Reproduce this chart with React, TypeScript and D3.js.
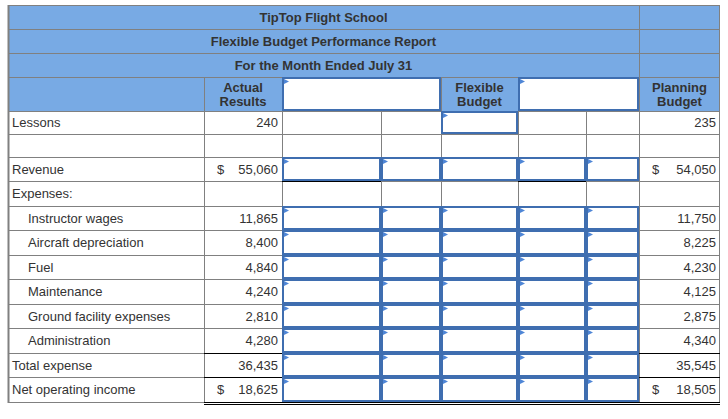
import React from "react";
import * as d3 from "d3";

// ---- data ----
const titleLines = ["TipTop Flight School", "Flexible Budget Performance Report", "For the Month Ended July 31"];
const headerActual = ["Actual", "Results"];
const headerFlexible = ["Flexible", "Budget"];
const headerPlanning = ["Planning", "Budget"];
const rowLabels = [
  "Lessons", "", "Revenue", "Expenses:", "Instructor wages", "Aircraft depreciation", "Fuel",
  "Maintenance", "Ground facility expenses", "Administration", "Total expense", "Net operating income",
];
const rowIndent = [false, false, false, false, true, true, true, true, true, true, false, false];
const actualValues: (number | null)[] = [240, null, 55060, null, 11865, 8400, 4840, 4240, 2810, 4280, 36435, 18625];
const planningValues: (number | null)[] = [235, null, 54050, null, 11750, 8225, 4230, 4125, 2875, 4340, 35545, 18505];
const dollarRows = [false, false, true, false, false, false, false, false, false, false, false, true];

// ---- layout ----
const colWidths = [196, 78, 99, 60, 77, 68, 53, 81];
const tableLeft = 8;
const tableTop = 5;
const colX = [tableLeft, ...d3.cumsum(colWidths).map((d) => d + tableLeft)];
const titleRowH = 24;
const headerRowH = 34;
const bodyRowHeights = [23, 23, 24, 24.5, 24.5, 24.5, 24.5, 24.5, 24.5, 24.5, 24.5, 24.5];
const headerTop = tableTop + titleRowH * 3;
const bodyTop = headerTop + headerRowH;
const rowY = [bodyTop, ...d3.cumsum(bodyRowHeights).map((d) => d + bodyTop)].map((d) => Math.round(d));
const tableBottom = rowY[rowY.length - 1];
const tableRight = colX[colX.length - 1];

const BLUE = "#78AAE4";
const GRID = "#808080";
const INPUT = "#3F6EB0";
const FLAG = "#4F86D6";
const TXT = "#333";
const FONT = "'Liberation Sans', Arial, sans-serif";
const fmt = d3.format(",");

function InputBox({ x0, x1, y0, y1 }: { x0: number; x1: number; y0: number; y1: number }) {
  return (
    <g>
      <rect x={x0 + 1} y={y0 + 1} width={x1 - x0 - 2} height={y1 - y0 - 2} fill="#fff" stroke={INPUT} strokeWidth={2} />
      <path d={`M${x0 + 2},${y0 + 2}L${x0 + 7},${y0 + 4.5}L${x0 + 2},${y0 + 7}Z`} fill={FLAG} />
    </g>
  );
}

export default function App() {
  const inputRows = [2, 4, 5, 6, 7, 8, 9, 10, 11];
  return (
    <svg width={728} height={419} style={{ position: "absolute", left: 0, top: 0 }} fontFamily={FONT} fontSize={13}>
      <rect x={0} y={0} width={728} height={419} fill="#fff" />
      {/* blue header areas */}
      <rect x={tableLeft} y={tableTop} width={tableRight - tableLeft} height={bodyTop - tableTop} fill={BLUE} />
      {/* horizontal grid lines */}
      {[0, 1, 2, 3].map((i) => (
        <line key={"th" + i} x1={tableLeft} x2={tableRight} y1={tableTop + i * titleRowH + 0.5} y2={tableTop + i * titleRowH + 0.5} stroke={GRID} />
      ))}
      {rowY.map((y, i) => (
        <line key={"rh" + i} x1={tableLeft} x2={tableRight} y1={y + 0.5} y2={y + 0.5} stroke={GRID} />
      ))}
      {/* vertical lines */}
      <line x1={tableLeft + 0.5} x2={tableLeft + 0.5} y1={tableTop} y2={tableBottom + 1} stroke={GRID} strokeWidth={2} />
      <line x1={tableRight - 0.5} x2={tableRight - 0.5} y1={tableTop} y2={tableBottom + 1} stroke={GRID} />
      <line x1={colX[7] + 0.5} x2={colX[7] + 0.5} y1={tableTop} y2={tableBottom} stroke={GRID} />
      {[1, 2, 3, 4, 5, 6].map((c) => (
        <line key={"cv" + c} x1={colX[c] + 0.5} x2={colX[c] + 0.5} y1={headerTop} y2={tableBottom} stroke={GRID} />
      ))}
      {/* header inputs */}
      <InputBox x0={colX[2]} x1={colX[4]} y0={headerTop} y1={bodyTop} />
      <InputBox x0={colX[5]} x1={colX[7]} y0={headerTop} y1={bodyTop} />
      {/* title text */}
      {titleLines.map((t, i) => (
        <text key={t} x={(tableLeft + colX[7]) / 2} y={tableTop + i * titleRowH + titleRowH / 2 + 5} textAnchor="middle" fontWeight="bold" fill={TXT}>
          {t}
        </text>
      ))}
      {[
        { lines: headerActual, c: 1 },
        { lines: headerFlexible, c: 4 },
        { lines: headerPlanning, c: 7 },
      ].map(({ lines, c }) =>
        lines.map((t, j) => (
          <text key={c + t} x={(colX[c] + colX[c + 1]) / 2} y={headerTop + 15 + j * 14} textAnchor="middle" fontWeight="bold" fill={TXT}>
            {t}
          </text>
        ))
      )}
      {/* black rule lines */}
      {[colX[2], colX[5]].map((x, k) => (
        <line key={"bl" + k} x1={x} x2={colX[[3, 6][k]]} y1={rowY[3] + 0.5} y2={rowY[3] + 0.5} stroke="#000" />
      ))}
      <line x1={colX[1]} x2={tableRight} y1={rowY[10] + 0.5} y2={rowY[10] + 0.5} stroke="#000" />
      <line x1={colX[1]} x2={tableRight} y1={rowY[11] + 0.5} y2={rowY[11] + 0.5} stroke="#000" />
      <line x1={colX[1]} x2={tableRight} y1={tableBottom + 0.5} y2={tableBottom + 0.5} stroke="#000" />
      <line x1={colX[1]} x2={tableRight} y1={tableBottom + 2.5} y2={tableBottom + 2.5} stroke="#000" />
      {/* body inputs */}
      <InputBox x0={colX[4]} x1={colX[5]} y0={rowY[0]} y1={rowY[1]} />
      {inputRows.map((r) =>
        [2, 3, 4, 5, 6].map((c) => <InputBox key={r + "-" + c} x0={colX[c]} x1={colX[c + 1]} y0={rowY[r]} y1={rowY[r + 1]} />)
      )}
      {/* body text */}
      {rowLabels.map((lab, i) => {
        const yb = (rowY[i] + rowY[i + 1]) / 2 + 4.5;
        const a = actualValues[i];
        const p = planningValues[i];
        return (
          <g key={"r" + i} fill={TXT}>
            <text x={rowIndent[i] ? 28 : 12} y={yb}>{lab}</text>
            {a !== null && <text x={colX[2] - 4} y={yb} textAnchor="end">{fmt(a)}</text>}
            {p !== null && <text x={colX[8] - 4} y={yb} textAnchor="end">{fmt(p)}</text>}
            {dollarRows[i] && <text x={colX[1] + 13} y={yb}>$</text>}
            {dollarRows[i] && <text x={colX[7] + 13} y={yb}>$</text>}
          </g>
        );
      })}
    </svg>
  );
}
